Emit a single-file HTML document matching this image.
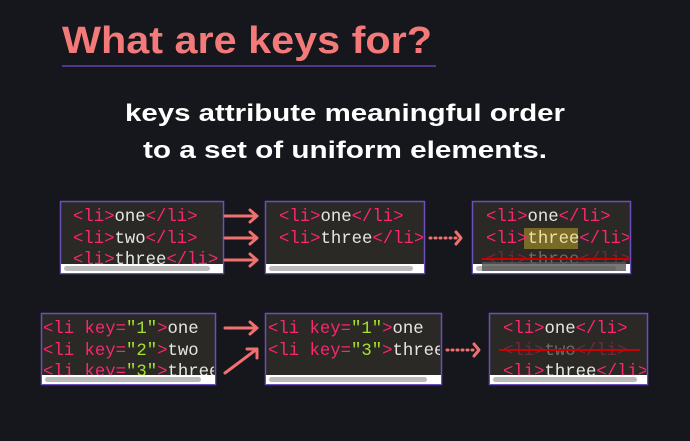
<!DOCTYPE html>
<html><head><meta charset="utf-8"><style>
html,body{margin:0;padding:0;background:#16171c;}
svg{display:block}
.c{font-family:"Liberation Mono",monospace;font-size:17.3px;}
.p{fill:#f92672}.w{fill:#e6e6e6}.g{fill:#a6e22e}
</style></head><body>
<svg width="690" height="441" viewBox="0 0 690 441" xmlns="http://www.w3.org/2000/svg">
<rect width="690" height="441" fill="#16171c"/>
<text x="62" y="53" font-family="Liberation Sans,sans-serif" font-weight="bold" font-size="38" fill="#f47a7a" textLength="370" lengthAdjust="spacingAndGlyphs">What are keys for?</text>
<line x1="62" y1="66" x2="436" y2="66" stroke="#6a3fb0" stroke-width="1.5"/>
<text x="345" y="121" text-anchor="middle" font-family="Liberation Sans,sans-serif" font-weight="bold" font-size="24" fill="#fff" textLength="440" lengthAdjust="spacingAndGlyphs">keys attribute meaningful order</text>
<text x="345" y="158" text-anchor="middle" font-family="Liberation Sans,sans-serif" font-weight="bold" font-size="24" fill="#fff" textLength="404" lengthAdjust="spacingAndGlyphs">to a set of uniform elements.</text>
<defs>
<clipPath id="c1"><rect x="61" y="202" width="161" height="62"/></clipPath>
<clipPath id="c2"><rect x="266" y="202" width="157" height="62"/></clipPath>
<clipPath id="c3"><rect x="473" y="202" width="156" height="62"/></clipPath>
<clipPath id="c4"><rect x="42" y="314" width="172" height="61"/></clipPath>
<clipPath id="c5"><rect x="266" y="314" width="174" height="61"/></clipPath>
<clipPath id="c6"><rect x="490" y="314" width="156" height="61"/></clipPath>
</defs>
<g stroke="#6b4fbb" stroke-width="1.5">
<rect x="60.5" y="201.5" width="163" height="72" fill="#2a2925"/>
<rect x="265.5" y="201.5" width="159" height="72" fill="#2a2925"/>
<rect x="472.5" y="201.5" width="158" height="72" fill="#2a2925"/>
<rect x="41.5" y="313.5" width="174" height="71" fill="#2a2925"/>
<rect x="265.5" y="313.5" width="176" height="71" fill="#2a2925"/>
<rect x="489.5" y="313.5" width="158" height="71" fill="#2a2925"/>
</g>
<g class="c">
<g clip-path="url(#c1)">
<text x="73" y="221"><tspan class="p">&lt;li&gt;</tspan><tspan class="w">one</tspan><tspan class="p">&lt;/li&gt;</tspan></text>
<text x="73" y="243"><tspan class="p">&lt;li&gt;</tspan><tspan class="w">two</tspan><tspan class="p">&lt;/li&gt;</tspan></text>
<text x="73" y="264"><tspan class="p">&lt;li&gt;</tspan><tspan class="w">three</tspan><tspan class="p">&lt;/li&gt;</tspan></text>
</g>
<g clip-path="url(#c2)">
<text x="279" y="221"><tspan class="p">&lt;li&gt;</tspan><tspan class="w">one</tspan><tspan class="p">&lt;/li&gt;</tspan></text>
<text x="279" y="243"><tspan class="p">&lt;li&gt;</tspan><tspan class="w">three</tspan><tspan class="p">&lt;/li&gt;</tspan></text>
</g>
<g clip-path="url(#c3)">
<rect x="524" y="228" width="54" height="21" fill="#7a6a2a"/>
<text x="486" y="221"><tspan class="p">&lt;li&gt;</tspan><tspan class="w">one</tspan><tspan class="p">&lt;/li&gt;</tspan></text>
<text x="486" y="243"><tspan class="p">&lt;li&gt;</tspan><tspan fill="#efe2a0">three</tspan><tspan class="p">&lt;/li&gt;</tspan></text>
<text x="486" y="264" opacity="0.35"><tspan class="p">&lt;li&gt;</tspan><tspan class="w">three</tspan><tspan class="p">&lt;/li&gt;</tspan></text>
<line x1="482" y1="259" x2="630" y2="259" stroke="#c00" stroke-width="2"/>
</g>
<g clip-path="url(#c4)">
<text x="43" y="333"><tspan class="p">&lt;li key=</tspan><tspan class="g">"1"</tspan><tspan class="p">&gt;</tspan><tspan class="w">one</tspan></text>
<text x="43" y="355"><tspan class="p">&lt;li key=</tspan><tspan class="g">"2"</tspan><tspan class="p">&gt;</tspan><tspan class="w">two</tspan></text>
<text x="43" y="376"><tspan class="p">&lt;li key=</tspan><tspan class="g">"3"</tspan><tspan class="p">&gt;</tspan><tspan class="w">three</tspan></text>
</g>
<g clip-path="url(#c5)">
<text x="268" y="333"><tspan class="p">&lt;li key=</tspan><tspan class="g">"1"</tspan><tspan class="p">&gt;</tspan><tspan class="w">one</tspan></text>
<text x="268" y="355"><tspan class="p">&lt;li key=</tspan><tspan class="g">"3"</tspan><tspan class="p">&gt;</tspan><tspan class="w">three</tspan></text>
</g>
<g clip-path="url(#c6)">
<text x="503" y="333"><tspan class="p">&lt;li&gt;</tspan><tspan class="w">one</tspan><tspan class="p">&lt;/li&gt;</tspan></text>
<text x="503" y="355" opacity="0.35"><tspan class="p">&lt;li&gt;</tspan><tspan class="w">two</tspan><tspan class="p">&lt;/li&gt;</tspan></text>
<line x1="499" y1="350" x2="640" y2="350" stroke="#c00" stroke-width="2"/>
<text x="503" y="376"><tspan class="p">&lt;li&gt;</tspan><tspan class="w">three</tspan><tspan class="p">&lt;/li&gt;</tspan></text>
</g>
</g>
<g>
<rect x="61" y="264" width="162" height="9" fill="#fff"/><rect x="64" y="266" width="146" height="5" rx="2.5" fill="#bbb"/>
<rect x="266" y="264" width="158" height="9" fill="#fff"/><rect x="269" y="266" width="144" height="5" rx="2.5" fill="#bbb"/>
<rect x="473" y="264" width="157" height="9" fill="#fff"/><rect x="476" y="266" width="140" height="5" rx="2.5" fill="#bbb"/>
<rect x="482" y="262" width="144" height="9" fill="#555" opacity="0.8"/>
<rect x="42" y="375" width="173" height="9" fill="#fff"/><rect x="45" y="377" width="156" height="5" rx="2.5" fill="#bbb"/>
<rect x="266" y="375" width="175" height="9" fill="#fff"/><rect x="269" y="377" width="158" height="5" rx="2.5" fill="#bbb"/>
<rect x="490" y="375" width="157" height="9" fill="#fff"/><rect x="493" y="377" width="144" height="5" rx="2.5" fill="#bbb"/>
</g>
<g stroke="#f07070" stroke-width="3" fill="none" stroke-linecap="round" stroke-linejoin="round">
<path d="M225 216H257M250 210l7 6-7 6"/>
<path d="M225 238H257M250 232l7 6-7 6"/>
<path d="M225 260H257M250 254l7 6-7 6"/>
<path d="M225 328H257M250 322l7 6-7 6"/>
<path d="M225 373L257 349M247 349h10v9"/>
<path d="M430 238H456" stroke-dasharray="1 4"/><path d="M456 232l5 6-5 6"/>
<path d="M447 350H474" stroke-dasharray="1 4"/><path d="M474 344l5 6-5 6"/>
</g>
</svg>
</body></html>
